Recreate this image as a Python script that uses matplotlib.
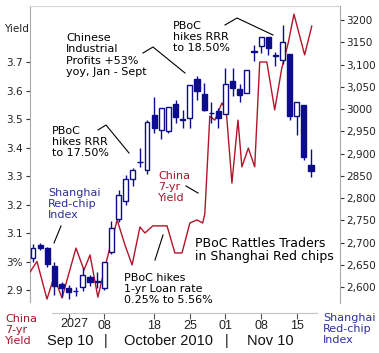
import numpy as np
import matplotlib.pyplot as plt
from matplotlib.lines import Line2D

W, H = 379, 353

# Shanghai Red-chip index, daily candles (trading-day index)
opens = [2665, 2694, 2688, 2647, 2607, 2598, 2592, 2600, 2623, 2612,
         2598, 2679, 2753, 2793, 2843, 2882, 2863, 2987, 2953, 2951,
         3011, 2978, 2980, 3067, 3034, 2992, 2996, 2989, 3063, 3045,
         3036, 3131, 3142, 3162, 3122, 3110, 3124, 2984, 3009, 2874]
highs = [2697, 2699, 2690, 2656, 2611, 2605, 2600, 2643, 2627, 2634,
         2656, 2748, 2818, 2852, 2867, 2912, 2975, 3027, 3002, 3005,
         3020, 2998, 3054, 3074, 3058, 3016, 3002, 3092, 3092, 3056,
         3088, 3144, 3162, 3162, 3128, 3189, 3124, 3016, 3009, 2910]
lows = [2656, 2683, 2645, 2582, 2578, 2573, 2580, 2591, 2602, 2598,
        2593, 2674, 2746, 2784, 2827, 2870, 2854, 2946, 2933, 2946,
        2969, 2957, 2957, 3020, 2995, 2969, 2957, 2989, 3029, 3016,
        3036, 3108, 3126, 3121, 3097, 3101, 2975, 2942, 2885, 2847]
closes = [2688, 2688, 2652, 2602, 2598, 2589, 2590, 2627, 2611, 2611,
          2656, 2733, 2807, 2843, 2863, 2880, 2971, 2957, 3002, 3004,
          2982, 2976, 3054, 3040, 2998, 2990, 2980, 3056, 3047, 3032,
          3088, 3129, 3162, 3137, 3120, 3151, 2984, 3016, 2892, 2861]

# China 7-yr yield (trading-day position, %)
yield_x = [-0.42, 0.56, 1.96, 2.95, 4.07, 6.03, 7.15, 8.0, 9.1, 10.2,
           11.8, 12.9, 13.9, 15.0, 15.7, 16.8, 18.8, 19.9, 20.9, 22.0,
           23.0, 23.8, 24.1, 24.8, 25.5, 26.5, 27.1, 27.9, 28.75, 29.3,
           30.2, 31.1, 31.8, 32.8, 33.9, 34.9, 35.8, 36.6, 38.1, 39.1]
yield_v = [2.963, 3.00, 2.868, 2.946, 2.872, 3.047, 2.970, 3.023, 2.875, 2.991,
           3.146, 3.058, 2.988, 3.121, 3.10, 3.125, 3.125, 3.03, 3.03, 3.135,
           3.146, 3.135, 3.167, 3.51, 3.496, 3.556, 3.53, 3.275, 3.496, 3.332,
           3.398, 3.332, 3.70, 3.70, 3.532, 3.679, 3.767, 3.868, 3.725, 3.826]

left_ticks = [3.7, 3.6, 3.5, 3.4, 3.3, 3.2, 3.1, 3.0, 2.9]
left_labels = ['3.7', '3.6', '3.5', '3.4', '3.3', '3.2', '3.1', '3%', '2.9']
right_ticks = [3200, 3150, 3100, 3050, 3000, 2950, 2900, 2850, 2800, 2750, 2700, 2650, 2600]
right_labels = ['3200', '3150', '3,100', '3,050', '3000', '2,950', '2,900',
                '2850', '2,800', '2,750', '2,700', '2,650', '2,600']
x_ticks = [5, 10, 17, 22, 27, 32, 37]
x_labels = ['', '08', '18', '25', '01', '08', '15']

NAVY = '#0c0c8c'
RED = '#b3142a'
DRED = '#a3162c'
BLUE = '#2e2e9e'
SPINE = '#a8a8a8'


def px(x, y):
    return x / W, 1 - y / H


fig = plt.figure(figsize=(W / 100, H / 100), dpi=100)
ax = fig.add_axes([30 / W, 1 - 313 / H, 310 / W, 307 / H])
ax2 = ax.twinx()

# yield line
ax.plot(yield_x, yield_v, color=RED, lw=1.0, zorder=3)
ax.set_xlim(-0.42, 43.06)
ax.set_ylim(2.8193, 3.8965)

# candles
idx = np.arange(len(opens))
o = np.array(opens, float)
c = np.array(closes, float)
up = c >= o
ax2.vlines(idx, lows, highs, color=NAVY, lw=1.0, zorder=2)
bottoms = np.minimum(o, c)
heights = np.maximum(np.abs(c - o), 1.5)
ax2.bar(idx[up], heights[up], bottom=bottoms[up], width=0.68,
        facecolor='white', edgecolor=NAVY, linewidth=1.0, zorder=3)
ax2.bar(idx[~up], heights[~up], bottom=bottoms[~up], width=0.72,
        facecolor=NAVY, edgecolor=NAVY, linewidth=1.0, zorder=3)
ax2.set_ylim(2541.6, 3231.5)

# spines
for s in ['left', 'top', 'bottom']:
    ax2.spines[s].set_visible(False)
ax.spines['right'].set_visible(False)
ax.spines['left'].set_color(SPINE)
ax.spines['left'].set_bounds(2.858, 3.8965)
ax.spines['top'].set_color('#d4d4d4')
ax.spines['bottom'].set_color('#c4c4c4')
ax.spines['bottom'].set_bounds(2.66, 39.8)
ax2.spines['right'].set_color(SPINE)
ax2.spines['right'].set_bounds(2564, 3231.5)

ax.set_yticks(left_ticks, left_labels)
ax.tick_params(axis='y', length=3, width=0.8, color='#333333', pad=2,
               labelsize=7.5, labelcolor='#222222')
ax2.set_yticks(right_ticks, right_labels)
ax2.tick_params(axis='y', length=3, width=0.8, color='#333333', pad=1.5,
                labelsize=7.5, labelcolor='#222222')
ax.set_xticks(x_ticks, x_labels, fontfamily='Liberation Sans')
ax.tick_params(axis='x', length=4, width=0.8, color='#555555', pad=1,
               labelsize=9, labelcolor='#222222')
for lbl in ax.get_yticklabels() + ax2.get_yticklabels():
    lbl.set_fontfamily('DejaVu Sans')

fig.text(*px(74, 324), '2027', ha='center', va='center', fontsize=9,
         family='Liberation Sans', color='#222222')

# second row of date labels
for x, t in [(70, 'Sep 10'), (106, '|'), (168, 'October 2010'), (227, '|'), (270, 'Nov 10')]:
    fig.text(*px(x, 341), t, ha='center', va='center', fontsize=10.5,
             family='Liberation Sans', color='#111111')

fig.text(*px(4, 29), 'Yield', fontsize=7.5, va='center', color='#222222')
fig.text(*px(5, 330), 'China\n7-yr\nYield', fontsize=8, va='center',
         color=DRED, linespacing=1.1)
fig.text(*px(323, 329), 'Shanghai\nRed-chip\nIndex', fontsize=8, va='center',
         color=BLUE, linespacing=1.1)

# annotations
notes = [
    (66, 55, 'Chinese\nIndustrial\nProfits +53%\nyoy, Jan - Sept', 'black'),
    (173, 37, 'PBoC\nhikes RRR\nto 18.50%', 'black'),
    (52, 142, 'PBoC\nhikes RRR\nto 17.50%', 'black'),
    (48, 204, 'Shanghai\nRed-chip\nIndex', BLUE),
    (158, 187, 'China\n7-yr\nYield', DRED),
    (124, 289, 'PBoC hikes\n1-yr Loan rate\n0.25% to 5.56%', 'black'),
]
for x, y, t, col in notes:
    fig.text(*px(x, y), t, fontsize=8, va='center', ha='left', color=col,
             linespacing=1.17)
fig.text(*px(195, 250), 'PBoC Rattles Traders\nin Shanghai Red chips',
         fontsize=9, va='center', ha='left', color='black', linespacing=1.04)

pointers = [
    [(143, 53), (153, 47), (185, 73)],
    [(225, 25), (237, 18), (273, 35)],
    [(98, 130), (106, 125), (129, 153)],
    [(61, 226), (54, 243)],
    [(186, 186), (198, 193)],
    [(155, 260), (163, 235)],
]
for pts in pointers:
    xs = [p[0] / W for p in pts]
    ys = [1 - p[1] / H for p in pts]
    fig.add_artist(Line2D(xs, ys, transform=fig.transFigure, color='black', lw=0.8))

fig.savefig('out.png', dpi=100)
